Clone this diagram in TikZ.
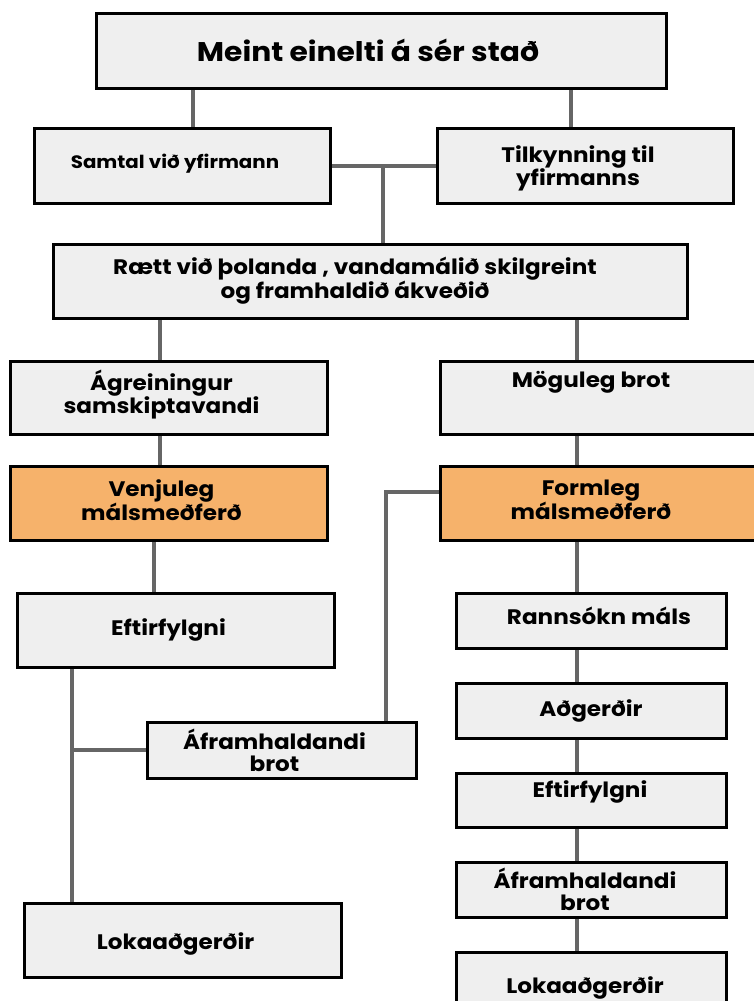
\documentclass[tikz,border=0pt]{standalone}
\usepackage{fontspec}
\setmainfont{Poppins}[FakeStretch=1.1]
\usetikzlibrary{backgrounds}

\definecolor{boxgray}{HTML}{EFEFEF}
\definecolor{boxorange}{HTML}{F6B26B}
\definecolor{linegray}{HTML}{666666}

\tikzset{
  box/.style={draw=black, line width=3pt, fill=boxgray, inner sep=0pt},
  hot/.style={box, fill=boxorange},
  txt/.style={align=center, inner sep=0pt, xshift=-7pt,
    font=\bfseries\fontsize{21}{22}\selectfont},
  conn/.style={draw=linegray, line width=4pt},
}

\begin{document}
\begin{tikzpicture}[x=1pt,y=-1pt]
  \useasboundingbox (0,0) rectangle (753,1001);

  % top part
  \node[box, minimum width=570pt, minimum height=75pt,
        label={[txt, xshift=-6pt, font=\bfseries\fontsize{27}{30}\selectfont]center:Meint einelti á sér stað}]
        (top) at (381,50.5) {};
  \node[box, minimum width=296pt, minimum height=75pt,
        label={[txt, yshift=2pt, font=\bfseries\fontsize{18}{22}\selectfont]center:Samtal við yfirmann}]
        (samtal) at (182,165.5) {};
  \node[box, minimum width=296pt, minimum height=75pt,
        label={[txt, yshift=-3pt]center:Tilkynning til\\yfirmanns}]
        (tilk) at (585,165.5) {};
  \node[box, minimum width=634pt, minimum height=74pt,
        label={[txt, xshift=-8pt]center:Rætt við þolanda , vandamálið skilgreint\\og framhaldið ákveðið}]
        (raett) at (370,281) {};

  % two branches
  \node[box, minimum width=317pt, minimum height=73pt,
        label={[txt, yshift=3pt]center:Ágreiningur\\samskiptavandi}] (agr) at (168.5,397.5) {};
  \node[box, minimum width=323pt, minimum height=73pt,
        label={[txt, xshift=-3.5pt, yshift=15pt]center:Möguleg brot}] (mog) at (601.5,397.5) {};
  \node[hot, minimum width=317pt, minimum height=74pt,
        label={[txt, yshift=3pt]center:Venjuleg\\málsmeðferð}] (ven) at (168.5,503) {};
  \node[hot, minimum width=323pt, minimum height=74pt,
        label={[txt, xshift=-3.5pt, yshift=3pt]center:Formleg\\málsmeðferð}] (form) at (601.5,503) {};

  % left column
  \node[box, minimum width=317pt, minimum height=74pt,
        label={[txt]center:Eftirfylgni}] (eftL) at (175.5,630) {};
  \node[box, minimum width=269pt, minimum height=56pt,
        label={[txt]center:Áframhaldandi\\brot}] (afrL) at (281.5,750) {};
  \node[box, minimum width=317pt, minimum height=74pt,
        label={[txt, yshift=-4pt]center:Lokaaðgerðir}] (lokL) at (182.5,940) {};

  % right column
  \node[box, minimum width=270pt, minimum height=55pt,
        label={[txt, xshift=15pt, yshift=5pt]center:Rannsókn máls}] (rann) at (591,620.5) {};
  \node[box, minimum width=270pt, minimum height=55pt,
        label={[txt, xshift=7pt]center:Aðgerðir}] (adg) at (591,710.5) {};
  \node[box, minimum width=270pt, minimum height=54pt,
        label={[txt, xshift=6pt, yshift=8pt]center:Eftirfylgni}] (eftR) at (591,800) {};
  \node[box, minimum width=270pt, minimum height=55pt,
        label={[txt, xshift=1pt]center:Áframhaldandi\\brot}] (afrR) at (591,889.5) {};
  \node[box, minimum width=270pt, minimum height=55pt,
        label={[txt, xshift=1pt, yshift=-8pt]center:Lokaaðgerðir}] (lokR) at (591,979.5) {};

  \coordinate (j1) at (383,164);
  \coordinate (j2) at (72,750);

  \begin{scope}[on background layer]
    \draw[conn] (top.south -| 193,0) -- (samtal.north -| 193,0);
    \draw[conn] (top.south -| 571,0) -- (tilk.north -| 571,0);
    \draw[conn] (samtal.east) -- (tilk.west);
    \draw[conn] (j1) -- (raett.north -| j1);
    \draw[conn] (raett.south -| 160,0) -- (agr.north -| 160,0);
    \draw[conn] (raett.south -| 577,0) -- (mog.north -| 577,0);
    \draw[conn] (agr.south -| 160,0) -- (ven.north -| 160,0);
    \draw[conn] (mog.south -| 577,0) -- (form.north -| 577,0);
    \draw[conn] (ven.south -| 154,0) -- (eftL.north -| 154,0);
    \draw[conn] (eftL.south -| j2) -- (lokL.north -| j2);
    \draw[conn] (j2) -- (afrL.west);
    \draw[conn] ([yshift=11pt]form.west) -| ([xshift=104.5pt]afrL.north);
    \draw[conn] (form.south -| 577,0) -- (rann.north -| 577,0);
    \draw[conn] (rann.south -| 577,0) -- (adg.north -| 577,0);
    \draw[conn] (adg.south -| 577,0) -- (eftR.north -| 577,0);
    \draw[conn] (eftR.south -| 577,0) -- (afrR.north -| 577,0);
    \draw[conn] (afrR.south -| 577,0) -- (lokR.north -| 577,0);
  \end{scope}
\end{tikzpicture}
\end{document}
